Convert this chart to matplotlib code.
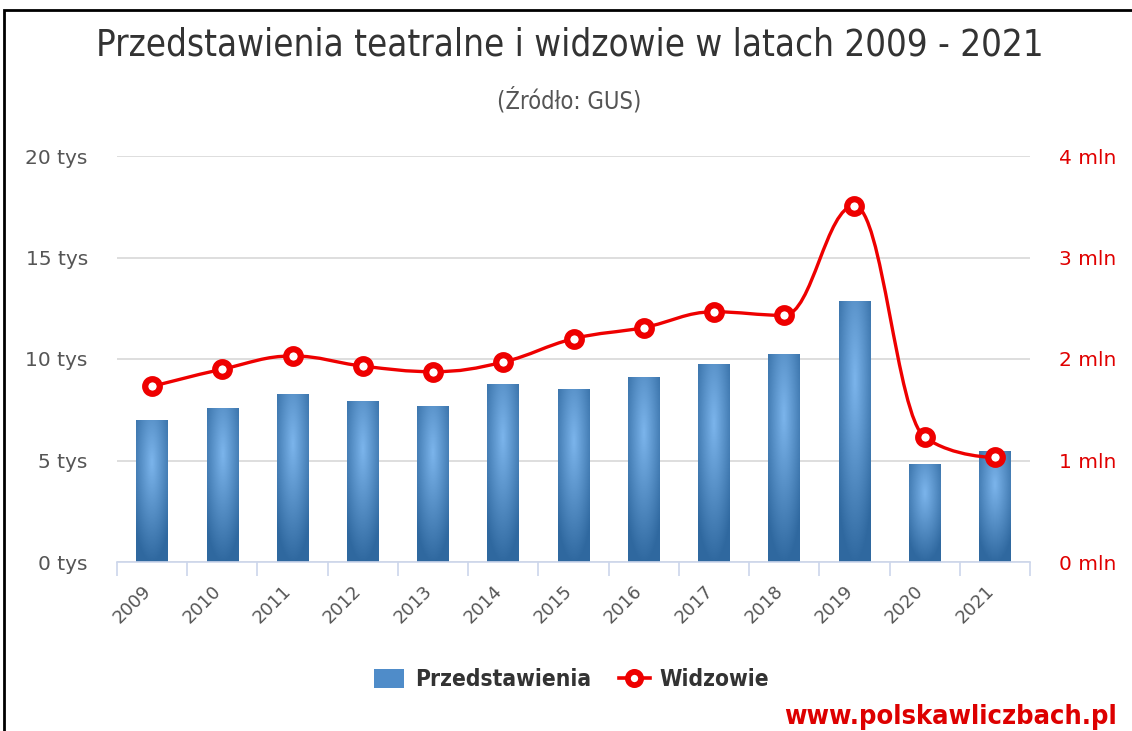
import numpy as np
import matplotlib
matplotlib.use("Agg")
import matplotlib.pyplot as plt
import matplotlib.transforms as mtransforms
from matplotlib.path import Path
from matplotlib.patches import PathPatch, Rectangle
from matplotlib.lines import Line2D

years = [str(y) for y in range(2009, 2022)]
przedstawienia = [7.0, 7.6, 8.3, 7.95, 7.7, 8.75, 8.5, 9.1, 9.75, 10.25, 12.85, 4.85, 5.45]  # tys
widzowie = [1.73, 1.90, 2.03, 1.93, 1.875, 1.97, 2.20, 2.31, 2.465, 2.43, 3.51, 1.23, 1.03]  # mln

left_ticks = [0, 5, 10, 15, 20]
right_ticks = [0, 1, 2, 3, 4]

BASE = np.array([124, 181, 236]) / 255.0
DARK = np.clip(BASE - 0.3, 0, 1)


def hc_spline(x, y, smoothing=1.5):
    # spline w stylu Highcharts (punkty kontrolne + korekta przestrzelenia)
    n = len(x)
    left = [None] * n
    right = [None] * n
    denom = smoothing + 1
    for i in range(1, n - 1):
        lx, ly = x[i - 1], y[i - 1]
        nx, ny = x[i + 1], y[i + 1]
        px, py = x[i], y[i]
        lcx = (smoothing * px + lx) / denom
        lcy = (smoothing * py + ly) / denom
        rcx = (smoothing * px + nx) / denom
        rcy = (smoothing * py + ny) / denom
        if rcx != lcx:
            corr = (rcy - lcy) * (rcx - px) / (rcx - lcx) + py - rcy
            lcy += corr
            rcy += corr
        if lcy > ly and lcy > py:
            lcy = max(ly, py); rcy = 2 * py - lcy
        elif lcy < ly and lcy < py:
            lcy = min(ly, py); rcy = 2 * py - lcy
        if rcy > ny and rcy > py:
            rcy = max(ny, py); lcy = 2 * py - rcy
        elif rcy < ny and rcy < py:
            rcy = min(ny, py); lcy = 2 * py - rcy
        left[i] = (lcx, lcy)
        right[i] = (rcx, rcy)
    verts = [(x[0], y[0])]
    codes = [Path.MOVETO]
    for i in range(1, n):
        c1 = right[i - 1] if right[i - 1] is not None else (x[i - 1], y[i - 1])
        c2 = left[i] if left[i] is not None else (x[i], y[i])
        verts += [c1, c2, (x[i], y[i])]
        codes += [Path.CURVE4] * 3
    return Path(verts, codes)


fig = plt.figure(figsize=(11.32, 7.31), dpi=100)
ax = fig.add_axes([117 / 1132, 1 - 562 / 731, 913 / 1132, 406 / 731])
ax2 = ax.twinx()

x = np.arange(len(years))
bw = 0.45

# gradient radialny w słupkach
gh, gw = 200, 60
u = np.linspace(0, 1, gw)[None, :]
v = np.linspace(0, 1, gh)[:, None]
d = np.clip(np.sqrt((u - 0.5) ** 2 + (v - 0.3) ** 2) / 0.7, 0, 1)
grad = BASE[None, None, :] * (1 - d[..., None]) + DARK[None, None, :] * d[..., None]

for xi, val in zip(x, przedstawienia):
    rect = Rectangle((xi - bw / 2, 0), bw, val, facecolor="none", edgecolor="none")
    ax.add_patch(rect)
    im = ax.imshow(grad, extent=[xi - bw / 2, xi + bw / 2, 0, val], aspect="auto",
                   origin="upper", zorder=2, interpolation="bilinear")
    im.set_clip_path(rect)

ax.set_xlim(-0.5, len(years) - 0.5)
ax.set_ylim(0, 20)
ax.set_yticks(left_ticks)
ax.set_yticklabels([f"{t} tys" for t in left_ticks])
ax.grid(axis="y", color="#d8d8d8", linewidth=1.2, zorder=0)
ax.set_axisbelow(True)

ax.set_xticks(x)
ax.set_xticks(np.arange(-0.5, len(years)), minor=True)
ax.tick_params(axis="x", which="major", length=0, pad=14, labelsize=13, labelcolor="#555555")
ax.tick_params(axis="x", which="minor", length=10, width=1.2, color="#ccd6eb")
ax.tick_params(axis="y", length=0, pad=21, labelsize=14.5, labelcolor="#555555")
ax.set_xticklabels(years, rotation=45, ha="right", va="center", rotation_mode="anchor")

for s in ["top", "left", "right"]:
    ax.spines[s].set_visible(False)
    ax2.spines[s].set_visible(False)
ax.spines["bottom"].set_color("#ccd6eb")
ax.spines["bottom"].set_linewidth(1.2)
ax2.spines["bottom"].set_visible(False)

ax2.set_ylim(0, 4)
ax2.set_yticks(right_ticks)
ax2.set_yticklabels([f"{t} mln" for t in right_ticks])
ax2.tick_params(axis="y", length=0, pad=21, labelsize=14.5, labelcolor="#e00000")

line_path = hc_spline(list(x), widzowie)
ax2.add_patch(PathPatch(line_path, facecolor="none", edgecolor="#ee0000", linewidth=2.4,
                        zorder=3, capstyle="round", joinstyle="round"))
ax2.plot(x, widzowie, linestyle="none", marker="o", markersize=10.5, markeredgewidth=4.5,
         markerfacecolor="white", markeredgecolor="#ee0000", zorder=4)

fig.text(0.503, 1 - 45 / 731, "Przedstawienia teatralne i widzowie w latach 2009 - 2021",
         ha="center", va="center", fontsize=26.3, color="#333333", fontstretch="condensed")
fig.text(0.503, 1 - 100 / 731, "(Źródło: GUS)", ha="center", va="center",
         fontsize=17, color="#555555", fontstretch="condensed")

handles = [
    Rectangle((0, 0), 1, 1, facecolor="#4f8cc9", edgecolor="none"),
    Line2D([0], [0], color="#ee0000", linewidth=2.6, marker="o", markersize=9.5,
           markeredgewidth=4.2, markerfacecolor="white", markeredgecolor="#ee0000"),
]
fig.legend(handles, ["Przedstawienia", "Widzowie"], loc="center", ncol=2,
           bbox_to_anchor=(0.505, 1 - 680 / 731), frameon=False, handlelength=1.35,
           handleheight=0.95, columnspacing=1.25, handletextpad=0.45,
           prop={"weight": "bold", "size": 16.3, "stretch": "condensed"}, labelcolor="#333333")

fig.text(1117 / 1132, 1 - 717 / 731, "www.polskawliczbach.pl", ha="right", va="center",
         fontsize=19.5, fontweight="bold", color="#dd0000", fontstretch="condensed")

fig.add_artist(Rectangle((4 / 1132, -0.01), 1.0, 1 - 10 / 731 + 0.01, transform=fig.transFigure,
                         facecolor="none", edgecolor="black", linewidth=2))

# przesunięcie etykiet lat (jak w Highcharts: koniec tekstu przy środku kategorii)
shift = mtransforms.ScaledTranslation(-4 / 100, -7 / 100, fig.dpi_scale_trans)
for lab in ax.get_xticklabels():
    lab.set_transform(lab.get_transform() + shift)

fig.savefig("out.png", dpi=100)
